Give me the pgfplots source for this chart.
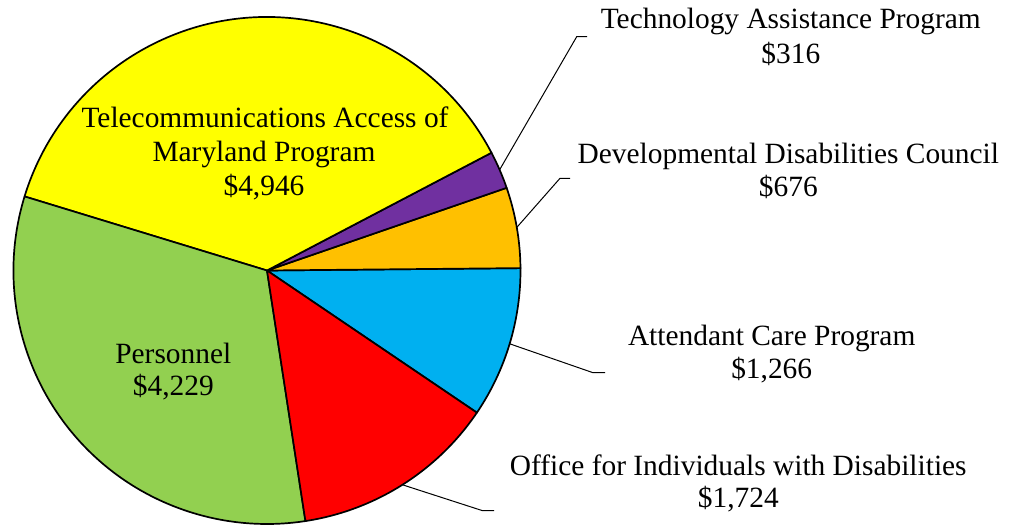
\documentclass[border=0pt]{standalone}
\usepackage{pgfplots}
\usepackage{pgfplotstable}
\pgfplotsset{compat=1.18}
\usepackage{fontspec}
\setmainfont{Liberation Serif}
\definecolor{cblue}{HTML}{00B0F0}
\definecolor{corange}{HTML}{FFC000}
\definecolor{cpurple}{HTML}{7030A0}
\definecolor{cyellow}{HTML}{FFFF00}
\definecolor{cgreen}{HTML}{92D050}
\definecolor{cred}{HTML}{FF0000}
% slices in counter-clockwise order, starting from the blue slice
\pgfplotstableread{
value color
1266 cblue
676 corange
316 cpurple
4946 cyellow
4229 cgreen
1724 cred
}\piedata
\tikzset{lbl/.style={anchor=base, inner sep=0pt, font=\fontsize{14.7pt}{17pt}\selectfont}}
\begin{document}
\begin{tikzpicture}
\begin{axis}[
  scale only axis, width=506.5pt, height=262.5pt,
  xmin=0, xmax=1013, ymin=0, ymax=525, y dir=reverse,
  hide axis, clip=false,
]
\pgfplotstablegetrowsof{\piedata}
\pgfmathtruncatemacro\N{\pgfplotsretval-1}
\def\total{0}
\pgfplotsforeachungrouped \i in {0,...,\N}{%
  \pgfplotstablegetelem{\i}{value}\of\piedata
  \pgfmathsetmacro\total{\total+\pgfplotsretval}%
}
\def\curang{-34.1}
\pgfplotsforeachungrouped \i in {0,...,\N}{%
  \pgfplotstablegetelem{\i}{value}\of\piedata \let\v\pgfplotsretval
  \pgfplotstablegetelem{\i}{color}\of\piedata \let\c\pgfplotsretval
  \pgfmathsetmacro\endang{\curang+360*(\v/\total)}%
  \edef\temp{\noexpand\filldraw[fill=\c,draw=black,line width=0.85pt,line join=round]
    (axis cs:267,270.5) -- ++(\curang:126.75pt)
    arc[start angle=\curang,end angle=\endang,radius=126.75pt] -- cycle;}%
  \temp
  \global\let\curang\endang
}
% leader lines
\draw[black, line width=0.5pt] (axis cs:499.6,169.8) -- (axis cs:576.7,36.7) -- (axis cs:587,36.7);
\draw[black, line width=0.5pt] (axis cs:516.8,227.4) -- (axis cs:560,178.3) -- (axis cs:570,178.3);
\draw[black, line width=0.5pt] (axis cs:509.7,343.8) -- (axis cs:593,372.7) -- (axis cs:605,372.7);
\draw[black, line width=0.5pt] (axis cs:402.5,484.8) -- (axis cs:482,510.5) -- (axis cs:494,510.5);
% labels
\node[lbl] at (axis cs:790.8,28.3) {Technology Assistance Program};
\node[lbl] at (axis cs:790.8,63.3) {\$316};
\node[lbl] at (axis cs:788.3,163.3) {Developmental Disabilities Council};
\node[lbl] at (axis cs:788.3,196.7) {\$676};
\node[lbl] at (axis cs:771.7,345) {Attendant Care Program};
\node[lbl] at (axis cs:771.7,378.3) {\$1,266};
\node[lbl] at (axis cs:738.3,475) {Office for Individuals with Disabilities};
\node[lbl] at (axis cs:738.3,507) {\$1,724};
\node[lbl] at (axis cs:265,127.3) {Telecommunications Access of};
\node[lbl] at (axis cs:264,161) {Maryland Program};
\node[lbl] at (axis cs:264,195) {\$4,946};
\node[lbl] at (axis cs:173.3,363.3) {Personnel};
\node[lbl] at (axis cs:173.3,395) {\$4,229};
\end{axis}
\pgfresetboundingbox
\path[use as bounding box] (current axis.south west) rectangle (current axis.north east);
\end{tikzpicture}
\end{document}
